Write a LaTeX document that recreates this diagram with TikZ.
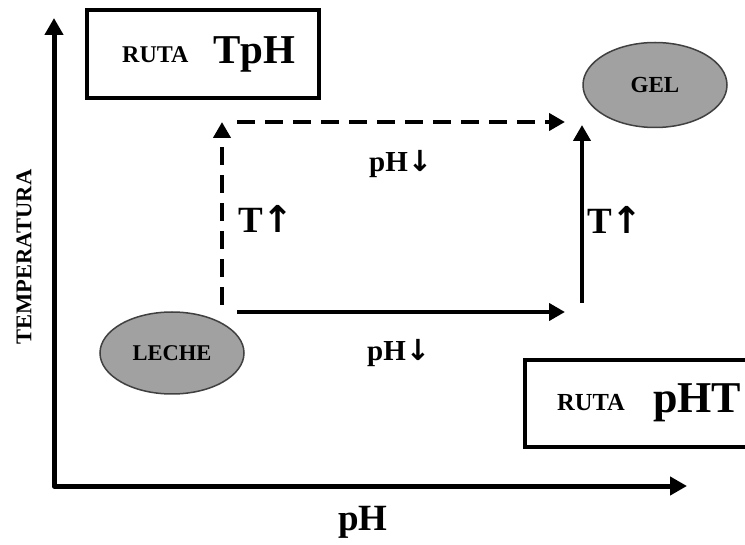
\documentclass[tikz,border=0pt]{standalone}
\usepackage{fontspec}
\setmainfont{Liberation Serif}
\newfontfamily\arrowfont{DejaVu Sans}
\usetikzlibrary{arrows.meta,shapes.geometric}
\newcommand\setfs[1]{\fontsize{#1}{#1}\selectfont\bfseries}
\newcommand\upar{{\arrowfont\bfseries ↑}}
\newcommand\downar{{\arrowfont\bfseries ↓}}
\begin{document}
\begin{tikzpicture}[x=1pt,y=-1pt,
  tip/.style={-{Triangle[length=16pt,width=17pt]}},
  axisline/.style={line width=5pt,line join=round,
    {Triangle[length=17pt,width=18pt]}-{Triangle[length=17pt,width=18pt]}},
  route/.style={line width=4.5pt,tip},
  dashroute/.style={route,dash pattern=on 18pt off 10pt},
  routebox/.style={draw,line width=4pt,rectangle,inner sep=0pt},
  blob/.style={draw=black!75,line width=1.5pt,fill=black!37,ellipse,inner sep=0pt},
  txt/.style={inner sep=0pt}]
\useasboundingbox (0,0) rectangle (745,545);

% axes
\coordinate (ytip) at (54,18);
\coordinate (corner) at (54,486);
\coordinate (xtip) at (687,486);
\draw[axisline] (ytip) -- (corner) -- (xtip);
\node[txt,rotate=90] (tlabel) at (24,257) {\setfs{22.5}TEMPERATURA};
\node[txt] (phlabel) at (363,522) {\setfs{37}pH};

% route boxes
\node[routebox,minimum width=232pt,minimum height=88pt] (tphbox) at (203,54) {};
\node[txt,anchor=base west] (tphruta) at (122,63) {\setfs{24}RUTA};
\node[txt,anchor=base west] (tphname) at (213,64) {\setfs{41}TpH};

\node[routebox,minimum width=240pt,minimum height=87pt] (phtbox) at (645,403.5) {};
\node[txt,anchor=base west] (phtruta) at (557,411) {\setfs{24.5}RUTA};
\node[txt,anchor=base west] (phtname) at (653,413) {\setfs{44}pHT};

% states
\node[blob,minimum width=144pt,minimum height=82pt] (leche) at (172,353) {\setfs{22.5}LECHE};
\node[blob,minimum width=144pt,minimum height=85pt] (gel) at (655,85) {\setfs{23}GEL};

% dashed route: temperature first, then pH
\coordinate (d0) at (222,305);
\coordinate (d1) at (222,122);
\coordinate (d2) at (237,122);
\coordinate (d3) at (565,122);
\draw[dashroute] (d0) -- (d1);
\draw[dashroute] (d2) -- (d3);

% solid route: pH first, then temperature
\coordinate (s0) at (237,312);
\coordinate (s1) at (565,312);
\coordinate (s2) at (582,303);
\coordinate (s3) at (582,125);
\draw[route] (s0) -- (s1);
\draw[route] (s2) -- (s3);

% step labels
\node[txt,anchor=base west] (phtop) at (369,172) {\setfs{29}pH\downar};
\node[txt,anchor=base west] (tleft) at (238,233) {\setfs{37}T\upar};
\node[txt,anchor=base west] (tright) at (587,234) {\setfs{37}T\upar};
\node[txt,anchor=base west] (phbot) at (367,361) {\setfs{29}pH\downar};
\end{tikzpicture}
\end{document}
